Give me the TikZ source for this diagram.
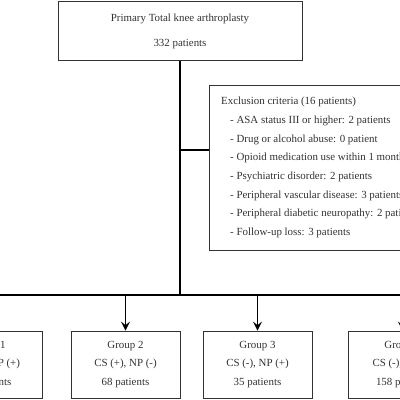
\documentclass[tikz,border=0pt]{standalone}
\usepackage{fontspec}
\setmainfont{Liberation Serif}
\usetikzlibrary{arrows.meta}
\begin{document}
\begin{tikzpicture}[x=1pt,y=-1pt,
  box/.style={draw=black!80, line width=0.8pt, rectangle, inner sep=0pt, text=black!80},
  grp/.style={box, minimum width=109pt, minimum height=67pt, align=center, font=\fontsize{10.9}{18.5}\selectfont},
  txt/.style={inner sep=0pt, text=black!80},
  conn/.style={line width=1.5pt},
  arr/.style={conn, -{Stealth[length=9pt,width=9pt,inset=3.5pt]}}]
\useasboundingbox (0,0) rectangle (400,400);
\clip (0,0) rectangle (400,400);
\fill[white] (0,0) rectangle (400,400);
% top box
\node[box, minimum width=244pt, minimum height=59pt, align=center, font=\fontsize{10.9}{25}\selectfont] (top) at (180,31) {Primary Total knee arthroplasty\\332 patients};
% exclusion box
\node[box, minimum width=251pt, minimum height=165pt] (excl) at (334.5,167.5) {};
\node[txt, anchor=west, align=left, font=\fontsize{10.9}{18.7}\selectfont] (excltxt) at (221,167.5) {Exclusion criteria (16 patients)\\
\hspace*{9pt}- ASA status III or higher: 2 patients\\
\hspace*{9pt}- Drug or alcohol abuse: 0 patient\\
\hspace*{9pt}- Opioid medication use within 1 month\\
\hspace*{9pt}- Psychiatric disorder: 2 patients\\
\hspace*{9pt}- Peripheral vascular disease: 3 patients\\
\hspace*{9pt}- Peripheral diabetic neuropathy: 2 patients\\
\hspace*{9pt}- Follow-up loss: 3 patients};
% groups
\node[grp] (g1) at (-12.5,364.5) {Group 1\\CS (+), NP (+)\\55 patients};
\node[grp] (g2) at (125.5,364.5) {Group 2\\CS (+), NP (-)\\68 patients};
\node[grp] (g3) at (257.5,364.5) {Group 3\\CS (-), NP (+)\\35 patients};
\node[grp] (g4) at (402.5,364.5) {Group 4\\CS (-), NP (-)\\158 patients};
% connectors
\coordinate (junc) at (180,295);
\coordinate (bj) at (180,150);
\draw[conn] (top.south) -- (junc);
\draw[conn] (bj) -- (bj -| excl.west);
\draw[conn] (g1.north |- junc) -- (g4.north |- junc);
\draw[arr] (g1.north |- junc) -- (g1.north);
\draw[arr] (g2.north |- junc) -- (g2.north);
\draw[arr] (g3.north |- junc) -- (g3.north);
\draw[arr] (g4.north |- junc) -- (g4.north);
\end{tikzpicture}
\end{document}
